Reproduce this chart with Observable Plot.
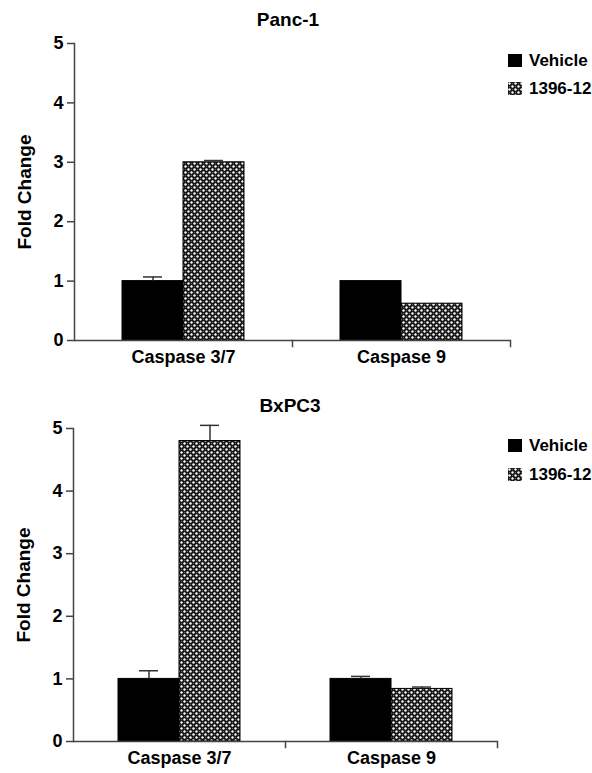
<!DOCTYPE html>
<html>
<head>
<meta charset="utf-8">
<script src="https://cdn.jsdelivr.net/npm/d3@7"></script>
<script src="https://cdn.jsdelivr.net/npm/@observablehq/plot@0.6"></script>
<style>
  html, body { margin: 0; padding: 0; background: #fff; }
  #root { position: relative; width: 592px; height: 773px; overflow: hidden;
          font-family: "Liberation Sans", Arial, sans-serif; font-weight: bold; color: #000; }
  .abs { position: absolute; }
  .title { font-size: 19px; line-height: 19px; width: 200px; text-align: center; }
  .leg { font-size: 17px; line-height: 17px; white-space: nowrap; }
  .sw { position: absolute; width: 14px; height: 13px; }
  svg [aria-label="y-axis tick label"] { font-size: 18px; font-weight: bold; }
  svg [aria-label="fx-axis tick label"] { font-size: 18px; font-weight: bold; }
</style>
</head>
<body>
<svg width="0" height="0" style="position:absolute">
  <defs>
    <pattern id="chk" width="6" height="6" patternUnits="userSpaceOnUse">
      <rect width="6" height="6" fill="#111"/>
      <circle cx="1.5" cy="1.5" r="1.2" fill="#fff"/>
      <circle cx="4.5" cy="4.5" r="1.2" fill="#fff"/>
      <rect x="3.9" y="0.9" width="1.2" height="1.2" fill="#666"/>
      <rect x="0.9" y="3.9" width="1.2" height="1.2" fill="#666"/>
    </pattern>
  </defs>
</svg>
<div id="root"></div>
<script>
// ---- data ----
const categories = ["Caspase 3/7", "Caspase 9"];
const groups = ["Vehicle", "1396-12"];
const yTicks = [0, 1, 2, 3, 4, 5];

const panc1Vehicle = [1.0, 1.0];
const panc1VehicleErr = [0.07, 0];
const panc1Treated = [3.0, 0.62];
const panc1TreatedErr = [0.03, 0];

const bxpc3Vehicle = [1.0, 1.0];
const bxpc3VehicleErr = [0.13, 0.04];
const bxpc3Treated = [4.8, 0.84];
const bxpc3TreatedErr = [0.25, 0.03];

function rows(veh, vehErr, trt, trtErr) {
  return categories.flatMap((c, i) => [
    {category: c, group: groups[0], value: veh[i], err: vehErr[i]},
    {category: c, group: groups[1], value: trt[i], err: trtErr[i]}
  ]);
}

const panc1 = rows(panc1Vehicle, panc1VehicleErr, panc1Treated, panc1TreatedErr);
const bxpc3 = rows(bxpc3Vehicle, bxpc3VehicleErr, bxpc3Treated, bxpc3TreatedErr);

const axisColor = "#444";

function panel({data, height, marginTop, marginBottom, marginRight, paddingOuter}) {
  const plotH = height - marginTop - marginBottom;
  const withErr = data.filter(d => d.err > 0);
  return Plot.plot({
    width: 592,
    height,
    marginTop,
    marginBottom,
    marginLeft: 73,
    marginRight,
    style: {fontFamily: "'Liberation Sans', Arial, sans-serif", fontSize: "17px", fontWeight: "bold", color: "#000", background: "none", overflow: "visible"},
    fx: {domain: categories, padding: 0, label: null},
    x: {domain: groups, paddingInner: 0, paddingOuter, axis: null},
    y: {domain: [0, 5], axis: null},
    color: {domain: groups, range: ["#000", "url(#chk)"]},
    marks: [
      Plot.barY(data, {fx: "category", x: "group", y: "value", fill: "group", stroke: "#000", strokeWidth: 1}),
      Plot.ruleX(withErr, {fx: "category", x: "group", y1: "value", y2: d => d.value + d.err, stroke: "#333", strokeWidth: 1.5}),
      Plot.tickY(withErr, {fx: "category", x: "group", y: d => d.value + d.err, insetLeft: 21, insetRight: 21, stroke: "#333", strokeWidth: 1.5}),
      Plot.ruleY([0], {stroke: axisColor, strokeWidth: 1.5}),
      Plot.frame({anchor: "left", facetAnchor: "left", stroke: axisColor, strokeWidth: 1.5}),
      Plot.frame({anchor: "right", insetTop: plotH, insetBottom: -6, stroke: axisColor, strokeWidth: 1.5}),
      Plot.axisY({ticks: yTicks, tickSize: 7, tickPadding: 4, tickFormat: d3.format("d"), label: null, stroke: axisColor, strokeWidth: 1.5, fontSize: 18, fill: "#000"}),
      Plot.text(["Fold Change"], {fx: () => categories[0], frameAnchor: "left", textAnchor: "middle", lineAnchor: "middle", dx: -50, rotate: -90, fontSize: 19, fontWeight: "bold", fill: "#000"}),
      Plot.axisFx({anchor: "bottom", tickSize: 0, tickPadding: 10, label: null, fontSize: 18, fill: "#000"})
    ]
  });
}

const root = document.getElementById("root");

function place(el, top) {
  el.style.position = "absolute";
  el.style.left = "0px";
  el.style.top = top + "px";
  root.appendChild(el);
}

place(panel({data: panc1, height: 380, marginTop: 43, marginBottom: 40, marginRight: 82, paddingOuter: 0.76}), 0);
place(panel({data: bxpc3, height: 388, marginTop: 43, marginBottom: 32, marginRight: 95, paddingOuter: 0.71}), 385);

function addTitle(text, cx, top) {
  const d = document.createElement("div");
  d.className = "abs title";
  d.textContent = text;
  d.style.left = (cx - 100) + "px";
  d.style.top = top + "px";
  root.appendChild(d);
}
addTitle("Panc-1", 288, 10);
addTitle("BxPC3", 290, 396);

function swatch(fill, left, top) {
  const ns = "http://www.w3.org/2000/svg";
  const s = document.createElementNS(ns, "svg");
  s.setAttribute("class", "sw");
  s.setAttribute("width", 14);
  s.setAttribute("height", 13);
  s.style.left = left + "px";
  s.style.top = top + "px";
  const r = document.createElementNS(ns, "rect");
  r.setAttribute("width", 14);
  r.setAttribute("height", 13);
  r.setAttribute("fill", fill);
  s.appendChild(r);
  root.appendChild(s);
}
function addLegend(tops) {
  const fills = ["#000", "url(#chk)"];
  groups.forEach((g, i) => {
    swatch(fills[i], 508, tops[i] + 1.5);
    const t = document.createElement("div");
    t.className = "abs leg";
    t.textContent = g;
    t.style.left = "529px";
    t.style.top = tops[i] + "px";
    root.appendChild(t);
  });
}
addLegend([52, 80]);
addLegend([437, 466]);
</script>
</body>
</html>
